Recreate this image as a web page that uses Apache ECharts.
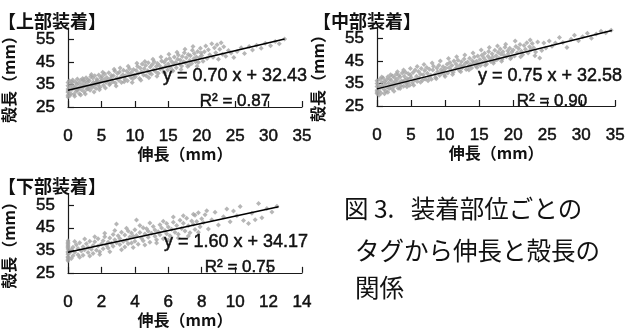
<!DOCTYPE html>
<html>
<head>
<meta charset="utf-8">
<script src="https://cdn.jsdelivr.net/npm/echarts@6/dist/echarts.min.js"></script>
<style>
  html, body { margin: 0; padding: 0; background: #fff; }
  #chart { width: 628px; height: 329px; }
</style>
</head>
<body>
<div id="chart"></div>
<script>
// Tag stretch (x, mm) vs shell length (y, mm) for each tag position
const upperPoints = [
  [0,30.2],[0,31.5],[0,33.0],[0,34.4],[0,35.8],[0,29.4],[0,32.1],[0.2,36.6],[0.3,33.8],[0.4,31.0],[0.5,35.1],[0.6,32.7],[0.7,37.0],[0.8,34.2],[0.9,30.6],[1.0,33.5],[1.1,36.1],[1.2,31.9],[1.3,34.9],[1.4,37.4],[1.5,33.1],[1.6,35.6],[1.7,30.9],[1.8,34.0],[1.9,36.8],[2.0,32.6],
  [2.1,35.2],[2.2,37.6],[2.3,33.9],[2.4,31.8],[2.5,36.3],[2.6,34.6],[2.7,38.0],[2.8,32.9],[2.9,35.8],[3.0,37.1],[3.1,34.1],[3.2,36.6],[3.3,32.4],[3.4,38.5],[3.5,35.0],[3.6,33.6],[3.7,37.8],[3.8,36.0],[3.9,34.5],[4.0,38.9],[4.1,35.5],[4.2,33.2],[4.3,37.3],[4.4,36.7],[4.5,34.8],[4.6,39.2],[4.7,35.9],[4.8,33.7],[4.9,37.9],
  [5.0,36.4],[5.1,38.6],[5.3,34.6],[5.4,37.2],[5.5,39.6],[5.7,35.8],[5.8,38.1],[6.0,36.9],[6.1,40.2],[6.2,34.9],[6.4,37.7],[6.5,39.0],[6.7,36.2],[6.8,38.8],[7.0,41.0],[7.1,35.6],[7.3,37.9],[7.4,39.8],[7.6,36.8],[7.7,40.5],[7.9,38.3],[8.0,35.9],[8.2,39.3],[8.3,41.3],[8.5,37.4],[8.6,38.9],[8.8,40.8],[8.9,36.6],[9.1,39.7],[9.2,42.0],[9.4,38.1],[9.5,40.4],[9.7,37.5],[9.8,41.6],[9.9,39.1],
  [10.1,38.4],[10.2,41.2],[10.4,43.0],[10.5,39.8],[10.7,37.6],[10.8,42.3],[11.0,40.6],[11.1,44.0],[11.3,39.2],[11.4,41.9],[11.6,43.4],[11.7,38.8],[11.9,41.1],[12.0,44.6],[12.2,40.1],[12.3,42.7],[12.5,39.5],[12.6,43.8],[12.8,41.5],[12.9,45.0],[13.1,40.7],[13.2,42.9],[13.4,44.3],[13.5,39.9],[13.7,43.3],[13.8,41.8],[14.0,45.4],[14.1,42.2],[14.3,40.5],[14.4,44.8],[14.6,43.1],[14.7,46.0],[14.9,41.4],
  [15.0,44.1],[15.2,46.5],[15.3,42.6],[15.5,45.2],[15.6,41.3],[15.8,43.9],[15.9,47.1],[16.1,44.7],[16.2,42.4],[16.4,46.2],[16.5,48.0],[16.7,44.0],[16.8,45.8],[17.0,43.2],[17.1,47.4],[17.3,45.1],[17.4,49.0],[17.6,44.5],[17.7,46.8],[17.9,42.9],[18.0,48.3],[18.2,45.6],[18.3,47.7],[18.5,44.3],[18.6,50.1],[18.8,46.4],[18.9,48.7],[19.1,45.0],[19.2,47.2],[19.4,49.6],[19.5,44.8],[19.7,46.9],[19.8,51.0],
  [20.0,47.8],[20.2,45.3],[20.4,49.5],[20.6,52.0],[20.8,46.5],[21.0,50.4],[21.2,48.1],[21.5,53.0],[21.7,47.0],[21.9,51.3],[22.1,49.0],[22.3,52.6],[22.5,46.2],[22.7,50.6],[22.9,53.5],[23.1,48.4],[23.3,51.7],[23.6,47.5],[24.0,50.0],[24.4,48.9],[24.8,46.9],
  [25.3,49.6],[25.9,51.2],[26.4,48.7],[27.1,51.8],[27.6,50.3],[28.2,52.4],[28.9,51.0],[29.5,53.2],[30.3,52.1],[31.0,54.0],[31.6,53.0],[32.4,55.1],
  [0.3,30.1],[0.6,36.0],[1.0,29.8],[1.4,32.4],[1.9,30.3],[2.3,36.9],[2.6,30.8],[3.0,33.1],[3.5,39.4],[3.9,31.6],[4.2,36.0],[4.7,32.6],[5.2,40.4],[5.6,33.4],[6.3,35.4],[6.9,41.7],[7.2,34.3],[7.8,42.3],[8.4,36.2],[9.0,43.1],[9.6,35.8],[10.3,44.4],[10.9,36.9],[11.5,45.2],[12.1,38.0],[12.7,46.1],[13.3,38.6],[13.9,47.2],[14.5,40.0],[15.1,48.4],[15.7,40.9],[16.3,49.3],[16.9,41.6],[17.5,50.6],[18.1,43.5],[18.7,51.8],[19.3,43.1],[19.9,48.9]
];
const middlePoints = [
  [0,30.5],[0,32.0],[0,33.6],[0,35.0],[0,31.2],[0,36.2],[0.2,34.3],[0.3,31.6],[0.4,36.9],[0.5,33.2],[0.6,30.8],[0.7,35.5],[0.8,33.9],[0.9,37.4],[1.0,32.4],[1.1,35.9],[1.2,34.7],[1.3,31.5],[1.4,36.6],[1.5,33.3],[1.6,38.0],[1.7,35.2],[1.8,32.8],[1.9,37.0],[2.0,34.1],
  [2.1,36.3],[2.2,32.5],[2.3,38.3],[2.4,35.0],[2.5,33.6],[2.6,37.5],[2.7,35.8],[2.8,39.1],[2.9,34.4],[3.0,36.8],[3.1,32.9],[3.2,38.6],[3.3,35.3],[3.4,37.9],[3.5,34.0],[3.6,36.1],[3.7,39.6],[3.8,35.7],[3.9,33.8],[4.0,38.2],[4.1,36.5],[4.2,40.0],[4.3,34.9],[4.4,37.2],[4.5,35.4],[4.6,39.3],[4.7,36.9],[4.8,34.2],[4.9,38.7],
  [5.0,37.6],[5.2,35.3],[5.3,39.8],[5.5,36.6],[5.6,41.0],[5.8,38.2],[5.9,35.9],[6.1,40.3],[6.2,37.4],[6.4,39.1],[6.5,41.6],[6.7,36.4],[6.8,38.9],[7.0,40.7],[7.1,37.0],[7.3,42.1],[7.4,39.5],[7.6,37.8],[7.7,41.3],[7.9,38.6],[8.0,36.9],[8.2,40.9],[8.3,42.6],[8.5,39.0],[8.6,37.6],[8.8,41.8],[8.9,40.2],[9.1,43.0],[9.2,38.5],[9.4,41.1],[9.5,39.7],[9.7,42.4],[9.8,40.6],[10.0,38.1],
  [10.1,41.7],[10.3,43.5],[10.4,39.6],[10.6,42.0],[10.7,44.3],[10.9,40.8],[11.0,42.9],[11.2,39.9],[11.3,44.9],[11.5,41.5],[11.6,43.6],[11.8,42.2],[11.9,45.3],[12.1,40.7],[12.2,43.1],[12.4,44.6],[12.5,41.9],[12.7,42.8],[12.8,45.8],[13.0,43.9],[13.1,41.2],[13.3,44.5],[13.4,42.5],[13.6,46.2],[13.7,43.4],[13.9,41.8],[14.0,45.1],[14.2,44.0],[14.3,46.7],[14.5,42.7],[14.6,44.8],[14.8,47.2],[14.9,43.7],
  [15.1,45.6],[15.2,42.9],[15.4,47.5],[15.5,44.4],[15.7,46.3],[15.8,48.4],[16.0,45.0],[16.1,43.6],[16.3,47.0],[16.4,49.2],[16.6,45.9],[16.7,44.7],[16.9,48.1],[17.0,46.6],[17.2,44.9],[17.3,49.7],[17.5,47.3],[17.6,45.5],[17.8,48.8],[17.9,46.1],[18.1,50.2],[18.2,47.9],[18.4,45.8],[18.5,49.0],[18.7,47.4],[18.8,51.0],[19.0,46.8],[19.2,49.5],[19.3,48.2],[19.5,50.6],[19.7,46.5],[19.8,48.9],
  [20.0,49.8],[20.2,47.1],[20.4,51.4],[20.6,48.6],[20.8,50.5],[21.0,52.3],[21.2,49.3],[21.4,47.7],[21.6,51.8],[21.8,50.1],[22.0,53.0],[22.2,48.5],[22.4,51.2],[22.6,49.9],[22.8,52.7],[23.0,50.8],[23.3,48.9],[23.6,53.4],[23.9,46.3],[24.2,49.6],[24.5,52.9],[24.8,50.7],
  [25.3,53.8],[25.7,51.5],[26.2,52.9],[26.8,55.4],[27.3,53.1],[27.9,50.9],[28.5,54.6],[29.0,56.3],[29.6,53.9],[30.2,55.7],[30.9,57.2],[31.5,55.0],[32.2,56.9],[32.9,58.1],[33.6,57.4],[34.4,58.6],
  [0.3,29.8],[0.7,37.9],[1.1,30.4],[1.6,31.1],[2.0,38.9],[2.5,31.5],[3.0,40.2],[3.4,32.8],[3.9,40.9],[4.4,33.5],[4.9,41.6],[5.4,34.2],[5.9,42.5],[6.4,35.5],[6.9,43.4],[7.5,36.2],[8.1,44.1],[8.7,37.1],[9.3,44.9],[9.9,38.9],[10.5,46.0],[11.1,39.0],[11.7,46.8],[12.3,40.2],[12.9,47.6],[13.5,41.0],[14.1,48.5],[14.7,42.1],[15.3,49.8],[15.9,43.0],[16.5,50.9],[17.1,43.9],[17.7,51.6],[18.3,44.8],[18.9,52.4],[19.6,45.9],[20.3,53.8],[21.1,46.8],[22.5,54.2],[23.2,47.3]
];
const lowerPoints = [
  [0,31.0],[0,32.2],[0,33.3],[0,34.5],[0,35.6],[0,36.8],[0,38.0],[0,39.2],[0,31.8],[0,37.4],
  [0.1,33.9],[0.2,35.3],[0.3,32.6],[0.3,36.4],[0.4,34.1],[0.5,37.5],[0.6,33.0],[0.6,35.8],[0.7,38.4],[0.8,34.7],[0.9,36.6],[0.9,32.8],[1.0,35.2],[1.1,37.9],[1.2,34.0],[1.2,36.2],[1.3,39.0],[1.4,35.5],[1.5,33.6],[1.5,37.1],[1.6,38.8],[1.7,35.0],[1.8,36.9],[1.8,40.1],[1.9,34.4],[2.0,37.8],
  [2.1,39.3],[2.1,35.7],[2.2,41.0],[2.3,37.3],[2.4,38.6],[2.4,36.0],[2.5,40.5],[2.6,38.1],[2.7,42.0],[2.7,36.8],[2.8,39.7],[2.9,46.7],[2.9,38.4],[3.0,41.5],[3.1,37.6],[3.1,40.2],[3.2,43.0],[3.3,38.9],[3.4,36.5],[3.4,41.8],[3.5,39.5],[3.6,43.6],[3.6,37.9],[3.7,40.9],[3.8,42.7],[3.8,38.3],[3.9,41.2],[4.0,39.0],
  [4.0,44.1],[4.1,48.5],[4.1,41.6],[4.2,37.7],[4.3,42.9],[4.4,40.4],[4.5,45.0],[4.5,39.2],[4.6,42.2],[4.7,44.6],[4.8,40.8],[4.8,43.5],[4.9,38.6],[5.0,42.6],[5.1,45.6],[5.2,41.3],[5.2,44.0],[5.3,39.7],[5.4,43.2],[5.5,46.3],[5.5,41.9],[5.6,44.9],[5.7,40.1],[5.8,43.8],[5.9,46.9],[5.9,42.4],
  [6.0,45.3],[6.1,41.5],[6.2,44.4],[6.3,47.5],[6.4,43.0],[6.5,46.0],[6.6,42.1],[6.7,48.3],[6.8,44.7],[6.9,47.0],[7.0,43.6],[7.1,49.2],[7.2,45.9],[7.3,42.8],[7.4,48.0],[7.5,46.6],[7.6,50.6],[7.6,44.2],[7.7,47.8],[7.8,51.7],[7.9,45.5],[8.0,49.0],
  [8.1,47.3],[8.2,50.8],[8.4,44.5],[8.6,48.6],[8.8,51.9],[9.0,46.2],[9.3,49.9],[9.5,53.3],[9.7,47.7],[9.9,52.5],[10.1,50.3],[10.3,54.4],[10.5,48.2],[10.8,46.9],[11.0,51.4],[11.2,48.6],[11.4,55.8],[11.6,49.5],[11.9,53.6],[12.2,52.0],[12.5,54.6],
  [0,30.4],[0,33.9],[0,36.2],[0,38.6],[0.2,31.4],[0.4,38.9],[0.7,31.9],[1.0,40.0],[1.3,32.5],[1.6,41.0],[1.9,33.1],[2.2,42.6],[2.5,34.4],[2.8,43.8],[3.2,35.3],[3.5,44.8],[3.9,36.2],[4.3,46.0],[4.6,37.4],[4.9,47.1],[5.3,38.3],[5.7,47.9],[6.0,39.6],[6.3,49.8],[6.6,40.5],[6.9,50.3],[7.2,41.4],[7.5,51.0],[7.8,43.0],[8.3,52.6]
];

// Regression results per panel
const panelTitles = ['【上部装着】', '【中部装着】', '【下部装着】'];
const slopes = [0.70, 0.75, 1.60];
const intercepts = [32.43, 32.58, 34.17];
const rSquared = [0.87, 0.90, 0.75];
const lineEnds = [32.4, 34.5, 12.6];

// Axis ticks
const shellTicks = [25, 35, 45, 55];
const wideStretchTicks = [0, 5, 10, 15, 20, 25, 30, 35];
const narrowStretchTicks = [0, 2, 4, 6, 8, 10, 12, 14];

const captionLines = ['図 3.   装着部位ごとの', 'タグから伸長と殻長の', '関係'];

const LATIN = '"Liberation Sans", Arial, sans-serif';
const CJK = '"Noto Sans CJK JP", sans-serif';
const INK = '#111';

const grids = [
  { left: 62, top: 28, width: 240, height: 79 },
  { left: 377, top: 27, width: 241, height: 79 },
  { left: 62, top: 194, width: 240, height: 79 }
];
const xRanges = [
  { max: 35, interval: 5, ticks: wideStretchTicks },
  { max: 35, interval: 5, ticks: wideStretchTicks },
  { max: 14, interval: 2, ticks: narrowStretchTicks }
];
const pointSets = [upperPoints, middlePoints, lowerPoints];

const axisLine = { lineStyle: { color: '#1a1a1a', width: 1.2 } };
const axisTick = (vals) => ({ inside: true, length: 6, customValues: vals, lineStyle: { color: '#1a1a1a', width: 1.2 } });
const numberStyle = { fontSize: 17, fontFamily: LATIN, color: INK, textBorderColor: INK, textBorderWidth: 0.5 };

const xAxes = xRanges.map((r, i) => ({
  type: 'value', gridIndex: i, min: 0, max: r.max, interval: r.interval,
  axisLine, axisTick: axisTick(r.ticks), splitLine: { show: false },
  axisLabel: Object.assign({ customValues: r.ticks, margin: 21 }, numberStyle),
  name: '伸長（mm）', nameLocation: 'middle', nameGap: 36,
  nameTextStyle: { fontSize: 16, fontWeight: 'bold', fontFamily: CJK, color: INK }
}));
const yAxes = grids.map((g, i) => ({
  type: 'value', gridIndex: i, min: 25, max: 60, interval: 10,
  axisLine, axisTick: axisTick(shellTicks), splitLine: { show: false },
  axisLabel: Object.assign({ customValues: shellTicks, margin: 13 }, numberStyle),
  name: '殻長（mm）', nameLocation: 'middle', nameGap: 51, nameRotate: 90,
  nameTextStyle: { fontSize: 16, fontWeight: 'bold', fontFamily: CJK, color: INK, padding: [0, 16, 0, 0] }
}));

const series = [];
pointSets.forEach((pts, i) => {
  series.push({
    type: 'scatter', xAxisIndex: i, yAxisIndex: i, data: pts,
    symbol: 'diamond', symbolSize: 5, itemStyle: { color: '#a4a4a4' }, silent: true, z: 2
  });
  series.push({
    type: 'line', xAxisIndex: i, yAxisIndex: i,
    data: [[0, intercepts[i]], [lineEnds[i], slopes[i] * lineEnds[i] + intercepts[i]]],
    showSymbol: false, lineStyle: { color: '#000', width: 1.5 }, silent: true, z: 3
  });
});

function text(str, x, y, font, align, heavy) {
  const style = { text: str, font, fill: INK, align: align || 'left', verticalAlign: 'middle' };
  if (heavy) { style.stroke = INK; style.lineWidth = 0.5; }
  return { type: 'text', x, y, z: 10, silent: true, style };
}

const titlePos = [[-2, 21], [313, 21], [-2, 186]];
const eqPos = [[307, 76], [622, 76], [308, 242]];
const r2Pos = [[235, 101], [552, 101], [240, 267]];
const graphics = [];
for (let i = 0; i < 3; i++) {
  graphics.push(text(panelTitles[i], titlePos[i][0], titlePos[i][1], 'bold 18px ' + CJK));
  graphics.push(text('y = ' + slopes[i].toFixed(2) + ' x + ' + intercepts[i].toFixed(2), eqPos[i][0], eqPos[i][1], '18px ' + LATIN, 'right', true));
  graphics.push(text('R² = ' + rSquared[i].toFixed(2), r2Pos[i][0], r2Pos[i][1], '17px ' + LATIN, 'center', true));
}
const captionPos = [[344, 209], [355, 251], [355, 288]];
captionLines.forEach((line, i) => {
  graphics.push(text(line, captionPos[i][0], captionPos[i][1], '24.5px ' + CJK));
});

const chart = echarts.init(document.getElementById('chart'), null, { renderer: 'canvas' });
chart.setOption({
  backgroundColor: '#fff',
  animation: false,
  grid: grids,
  xAxis: xAxes,
  yAxis: yAxes,
  series,
  graphic: graphics
});
</script>
</body>
</html>
